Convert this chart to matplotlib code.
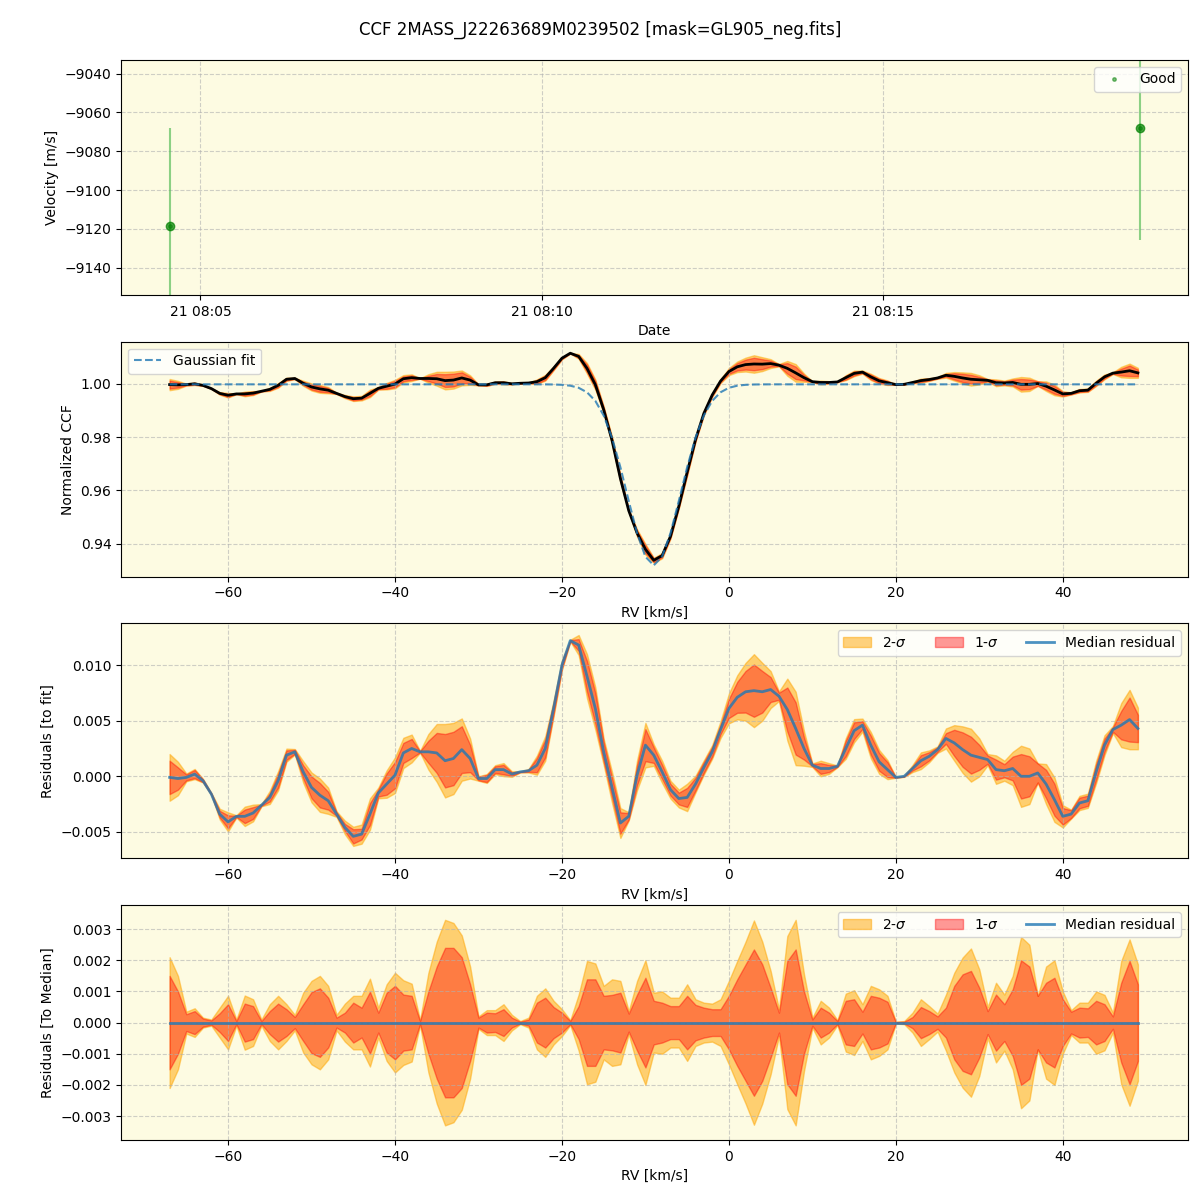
import numpy as np
import matplotlib
matplotlib.use('Agg')
import matplotlib.pyplot as plt
from datetime import datetime

# top panel: two epochs
obs_times = [datetime(2020, 8, 21, 8, 4, 33), datetime(2020, 8, 21, 8, 18, 45)]
obs_vel = [-9118.4, -9067.8]
obs_err = [50.3, 57.8]

# RV grid [km/s]
rv = np.arange(-67, 50)

# median residual to the gaussian fit
med_res = [
    -0.0001, -0.0002, -0.0001, 0.0002, -0.0004, -0.0016, -0.0034, -0.0041, -0.0036, -0.0036,
    -0.0033, -0.0026, -0.0019, -0.0004, 0.0019, 0.0022, 0.0004, -0.0010, -0.0017, -0.0022,
    -0.0034, -0.0046, -0.0054, -0.0052, -0.0034, -0.0015, -0.0007, 0.0001, 0.0021, 0.0025,
    0.0022, 0.0022, 0.0021, 0.0014, 0.0016, 0.0024, 0.0016, -0.0002, -0.0002, 0.0006,
    0.0006, 0.0002, 0.0004, 0.0005, 0.0010, 0.0025, 0.0061, 0.0100, 0.0122, 0.0118,
    0.0090, 0.0061, 0.0022, -0.0010, -0.0042, -0.0036, 0.0001, 0.0028, 0.0019, 0.0004,
    -0.0012, -0.0020, -0.0019, -0.0007, 0.0008, 0.0022, 0.0042, 0.0061, 0.0071, 0.0076,
    0.0077, 0.0076, 0.0078, 0.0072, 0.0060, 0.0043, 0.0025, 0.0010, 0.0007, 0.0007,
    0.0009, 0.0025, 0.0041, 0.0046, 0.0028, 0.0013, 0.0006, -0.0001, 0.0000, 0.0007,
    0.0014, 0.0018, 0.0024, 0.0034, 0.0030, 0.0024, 0.0019, 0.0017, 0.0015, 0.0006,
    0.0005, 0.0007, 0.0000, 0.0000, 0.0003, -0.0007, -0.0021, -0.0036, -0.0034, -0.0024,
    -0.0022, 0.0004, 0.0028, 0.0042, 0.0046, 0.0051, 0.0043,
]

# 1-sigma half width of the residual spread
sig1 = [
    0.0015, 0.0010, 0.00027, 0.00037, 0.00013, 0.00007, 0.0003, 0.00059, 0.00005, 0.00061,
    0.00053, 0.00005, 0.00037, 0.00061, 0.00043, 0.00018, 0.00059, 0.00098, 0.0011, 0.0008,
    0.00016, 0.00032, 0.00064, 0.00048, 0.00099, 0.00032, 0.00096, 0.00118, 0.0009, 0.00086,
    0.00005, 0.001, 0.0018, 0.0024, 0.0024, 0.0021, 0.00123, 0.00016, 0.00032, 0.0003,
    0.00043, 0.00016, 0.00003, 0.0001, 0.00064, 0.0008, 0.0005, 0.00032, 0.00005, 0.00053,
    0.00139, 0.00139, 0.00086, 0.00089, 0.00096, 0.00029, 0.0009, 0.00144, 0.0007, 0.00064,
    0.00053, 0.00053, 0.00086, 0.00057, 0.00048, 0.00043, 0.00043, 0.00086, 0.00139, 0.00187,
    0.00235, 0.00187, 0.00112, 0.00032, 0.00198, 0.00235, 0.001, 0.0001, 0.00048, 0.00032,
    0.00005, 0.0007, 0.00075, 0.00035, 0.00086, 0.0008, 0.00067, 0.00002, 0.00003, 0.00018,
    0.0005, 0.00037, 0.0002, 0.00048, 0.00118, 0.00155, 0.00166, 0.00112, 0.00037, 0.0009,
    0.00059, 0.00107, 0.002, 0.0018, 0.00086, 0.00128, 0.00144, 0.00075, 0.00035, 0.00048,
    0.00046, 0.0007, 0.00059, 0.0002, 0.00128, 0.00198, 0.00123,
]

# 2-sigma half width
sig2 = [
    0.0021, 0.0015, 0.00035, 0.00046, 0.00016, 0.0001, 0.00048, 0.00086, 0.0001, 0.00087,
    0.00075, 0.0001, 0.00059, 0.00086, 0.00059, 0.00025, 0.00096, 0.00134, 0.0015, 0.00118,
    0.00025, 0.00061, 0.00086, 0.00086, 0.00141, 0.00048, 0.00123, 0.0016, 0.00136, 0.00125,
    0.00008, 0.0016, 0.0026, 0.0033, 0.0032, 0.0028, 0.0018, 0.0002, 0.0004, 0.0004,
    0.00059, 0.00025, 0.00005, 0.00016, 0.00086, 0.0011, 0.0007, 0.00043, 0.00008, 0.0009,
    0.00198, 0.0019, 0.00118, 0.00139, 0.00134, 0.00037, 0.00134, 0.002, 0.00096, 0.001,
    0.0008, 0.0008, 0.00123, 0.00075, 0.00064, 0.00061, 0.00075, 0.00134, 0.00198, 0.0026,
    0.00328, 0.0026, 0.00166, 0.00043, 0.00278, 0.0033, 0.00155, 0.00016, 0.0007, 0.00048,
    0.00008, 0.00093, 0.00104, 0.00059, 0.00118, 0.00107, 0.00086, 0.00003, 0.00005, 0.00032,
    0.00075, 0.00053, 0.00029, 0.0009, 0.0016, 0.00209, 0.00238, 0.00171, 0.0005, 0.00128,
    0.0009, 0.0015, 0.00275, 0.0025, 0.00086, 0.0018, 0.002, 0.001, 0.0004, 0.00064,
    0.00064, 0.001, 0.00089, 0.00032, 0.00198, 0.00267, 0.00187,
]

# gaussian fit parameters
fit_cont = 0.9998
fit_depth = 0.068
fit_center = -9.0
fit_sigma = 3.2

med_res = np.array(med_res)
sig1 = np.array(sig1)
sig2 = np.array(sig2)
fit = fit_cont - fit_depth * np.exp(-0.5 * ((rv - fit_center) / fit_sigma) ** 2)
ccf = fit + med_res

BG = '#fdfbe2'

def style(ax):
    ax.set_facecolor(BG)
    ax.grid(True, linestyle='--', color='#b0b0b0', alpha=0.6)

def bands(ax, y, legend=True):
    ax.fill_between(rv, y - sig2, y + sig2, color='orange', alpha=0.5,
                    label='2-$\\sigma$' if legend else None)
    ax.fill_between(rv, y - sig1, y + sig1, color='red', alpha=0.4,
                    label='1-$\\sigma$' if legend else None)

fig, axs = plt.subplots(4, 1, figsize=(12, 12), dpi=100)
fig.subplots_adjust(left=0.101, right=0.99, top=0.95, bottom=0.05, hspace=0.2)
fig.suptitle('CCF 2MASS_J22263689M0239502 [mask=GL905_neg.fits]', fontsize=12, y=0.983)

# velocity vs time
ax = axs[0]
style(ax)
ax.errorbar(obs_times, obs_vel, yerr=obs_err, fmt='o', color='green', ecolor='#5cbf5c',
            alpha=0.7, ms=6, elinewidth=1.5)
ax.plot(obs_times, obs_vel, '.', color='green', alpha=0.5, ms=5, label='Good', linestyle='none')
ax.set_ylim(-9154, -9033)
ax.set_xlabel('Date')
ax.set_ylabel('Velocity [m/s]')
ax.legend(loc='upper right')

# CCF
ax = axs[1]
style(ax)
bands(ax, ccf, legend=False)
ax.plot(rv, ccf, color='black', lw=2)
ax.plot(rv, fit, '--', color='tab:blue', alpha=0.8, lw=1.5, label='Gaussian fit')
ax.set_xlim(-72.8, 55.0)
ax.set_ylim(0.9276, 1.0158)
ax.set_xlabel('RV [km/s]')
ax.set_ylabel('Normalized CCF')
ax.legend(loc='upper left')

# residuals to fit
ax = axs[2]
style(ax)
bands(ax, med_res)
ax.plot(rv, med_res, color='tab:blue', alpha=0.8, lw=2, label='Median residual')
ax.set_xlim(-72.8, 55.0)
ax.set_ylim(-0.00737, 0.01374)
ax.set_xlabel('RV [km/s]')
ax.set_ylabel('Residuals [to fit]')
ax.legend(loc='upper right', ncol=3)

# residuals to median
ax = axs[3]
style(ax)
bands(ax, np.zeros_like(med_res))
ax.plot(rv, np.zeros_like(med_res), color='tab:blue', alpha=0.8, lw=2, label='Median residual')
ax.set_xlim(-72.8, 55.0)
ax.set_ylim(-0.00377, 0.00377)
ax.set_xlabel('RV [km/s]')
ax.set_ylabel('Residuals [To Median]')
ax.legend(loc='upper right', ncol=3)

plt.savefig('out.png')
